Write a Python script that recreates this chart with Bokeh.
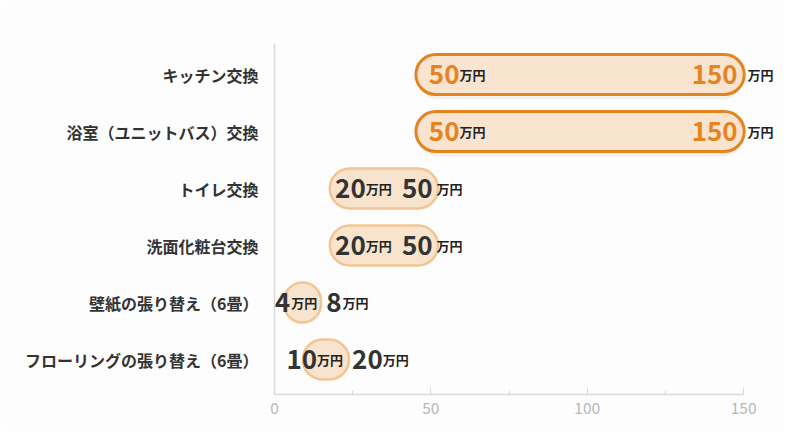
from bokeh.plotting import figure
from bokeh.models import ColumnDataSource, Range1d, FixedTicker, SingleIntervalTicker
from bokeh.core.properties import value
from bokeh.embed import file_html
from bokeh.resources import INLINE

# ---- data ----
items = ["キッチン交換", "浴室（ユニットバス）交換", "トイレ交換", "洗面化粧台交換",
         "壁紙の張り替え（6畳）", "フローリングの張り替え（6畳）"]
low = [50, 50, 20, 20, 4, 10]
high = [150, 150, 50, 50, 8, 20]
unit = "万円"
x_ticks_major = 50

# ---- layout constants ----
W, H = 784, 431
LEFT, RIGHT, TOP, BOTTOM = 274, 4, 43, 37
X0, X1 = 0, 161.8
Y0, Y1 = -0.614, 5.544
fw = W - LEFT - RIGHT
fh = H - TOP - BOTTOM
sx = fw / (X1 - X0)     # px per x unit
sy = fh / (Y1 - Y0)     # px per y unit

FONT = "Noto Sans CJK JP"
NUM_SIZE = 26
UNIT_SIZE = 13
DIGIT_W = 14.3
UNIT_W = 26.0

n = len(items)
ypos = [n - 1 - i for i in range(n)]
hl = [h >= 100 for h in high]

# pills and label offsets
pl, pr = [], []
s_x, s_off, su_off, e_x, e_off, e_align, eu_off = [], [], [], [], [], [], []
for lo, hi in zip(low, high):
    dl, dh = len(str(lo)), len(str(hi))
    span = (hi - lo) * sx
    if span >= 60:
        left = lo - (4 + 0.035 * span) / sx
        right = hi + max(0.0, 10 - 0.03 * span) / sx
        so = -2
        s_off.append(so)
        su_off.append(so + dl * DIGIT_W + 2)
        eo = 5 - 0.035 * span
        e_x.append(hi)
        e_off.append(eo)
        e_align.append("right")
        eu_off.append(max(eo, 0) + 4)
    else:
        left = lo - 3 / sx
        right = max(hi + 12 / sx, left + 37 / sx)
        g = dl * DIGIT_W + 2 + UNIT_W
        so = 9 - g / 2
        s_off.append(so)
        su_off.append(so + dl * DIGIT_W + 2)
        eo = so + g + 9
        e_x.append(lo)
        e_off.append(eo)
        e_align.append("left")
        eu_off.append(eo + dh * DIGIT_W + 2)
    pl.append(left)
    pr.append(right)
    s_x.append(lo)

num_color = ["#e5841f" if h else "#333333" for h in hl]

src = ColumnDataSource(dict(
    y=ypos, by=ypos,
    left=pl, right=pr,
    fill=["#f9e4cf" if h else "#f8e3cc" for h in hl],
    line=["#e5841f" if h else "#f2c593" for h in hl],
    lw=[3 if h else 2.5 for h in hl],
    sx=s_x, soff=s_off, suoff=su_off,
    ex=e_x, eoff=e_off, ealign=e_align, euoff=eu_off,
    lo=[str(v) for v in low], hi=[str(v) for v in high],
    ncol=num_color, unit=[unit] * n,
))

p = figure(width=W, height=H, output_backend="svg", toolbar_location=None,
           x_range=Range1d(X0, X1), y_range=Range1d(Y0, Y1),
           min_border_left=LEFT, min_border_right=RIGHT,
           min_border_top=TOP, min_border_bottom=BOTTOM)
p.outline_line_color = None
p.grid.grid_line_color = None
p.background_fill_color = "#fdfdfd"
p.border_fill_color = "#fdfdfd"

# soft shadow for highlighted pills
shsrc = ColumnDataSource(dict(
    y=[y - 3 / sy for y, h in zip(ypos, hl) if h],
    left=[l for l, h in zip(pl, hl) if h],
    right=[r for r, h in zip(pr, hl) if h],
))
p.hbar(y="y", left="left", right="right", height=44 / sy, source=shsrc,
       fill_color="#000000", fill_alpha=0.05, line_color=None, border_radius=22)

p.hbar(y="y", left="left", right="right", height=40 / sy, source=src,
       fill_color="fill", line_color="line", line_width="lw", border_radius=20)

# start numbers
p.text(x="sx", y="by", text="lo", x_offset="soff", source=src,
       text_font=value(FONT), text_font_style="bold", text_font_size=f"{NUM_SIZE}px",
       text_color="ncol", text_align="left", text_baseline="alphabetic")
p.text(x="sx", y="by", text="unit", x_offset="suoff", source=src,
       text_font=value(FONT), text_font_style="bold", text_font_size=f"{UNIT_SIZE}px",
       text_color="#222222", text_align="left", text_baseline="alphabetic")
# end numbers
p.text(x="ex", y="by", text="hi", x_offset="eoff", source=src,
       text_font=value(FONT), text_font_style="bold", text_font_size=f"{NUM_SIZE}px",
       text_color="ncol", text_align="ealign", text_baseline="alphabetic")
p.text(x="ex", y="by", text="unit", x_offset="euoff", source=src,
       text_font=value(FONT), text_font_style="bold", text_font_size=f"{UNIT_SIZE}px",
       text_color="#222222", text_align="left", text_baseline="alphabetic")

# x axis
xa = p.xaxis[0]
xa.bounds = (0, 150)
xa.ticker = SingleIntervalTicker(interval=x_ticks_major, num_minor_ticks=2)
xa.axis_line_color = "#d9d9d9"
xa.axis_line_width = 1.5
xa.major_tick_line_color = "#d9d9d9"
xa.major_tick_in = 7
xa.major_tick_out = 0
xa.minor_tick_line_color = "#d9d9d9"
xa.minor_tick_in = 4
xa.minor_tick_out = 0
xa.major_label_text_color = "#b8b8b8"
xa.major_label_text_font = FONT
xa.major_label_text_font_size = "15.5px"
xa.major_label_standoff = 7

# y axis
ya = p.yaxis[0]
ya.ticker = FixedTicker(ticks=ypos)
ya.major_label_overrides = {y: t for y, t in zip(ypos, items)}
ya.axis_line_color = "#d9d9d9"
ya.axis_line_width = 1.5
ya.major_tick_line_color = None
ya.minor_tick_line_color = None
ya.major_tick_in = 0
ya.major_tick_out = 0
ya.major_label_standoff = 16
ya.major_label_text_font = FONT
ya.major_label_text_font_style = "bold"
ya.major_label_text_font_size = "16px"
ya.major_label_text_color = "#333333"

open("out.html", "w").write(file_html(p, INLINE))
